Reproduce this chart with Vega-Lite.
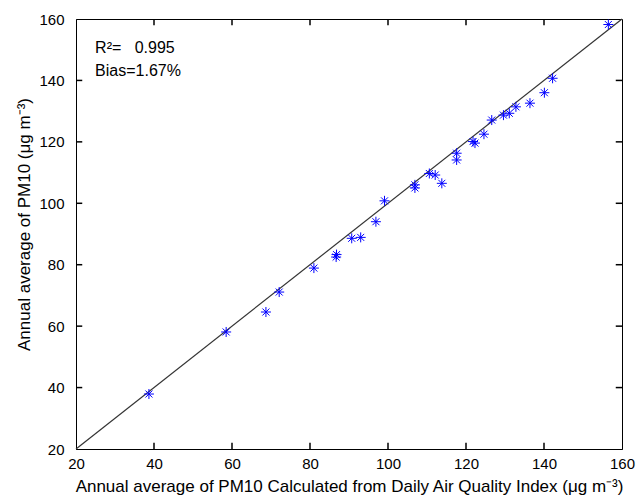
{
  "$schema": "https://vega.github.io/schema/vega-lite/v6.json",
  "width": 546,
  "height": 430,
  "autosize": "none",
  "padding": {"left": 76, "top": 19, "right": 15, "bottom": 53},
  "background": "white",
  "config": {
    "view": {"stroke": "black", "strokeWidth": 1},
    "font": "Liberation Sans",
    "axis": {
      "grid": false,
      "domainColor": "black",
      "tickColor": "black",
      "labelColor": "black",
      "titleColor": "black",
      "labelFontSize": 15,
      "titleFontSize": 17,
      "titleFontWeight": "normal",
      "labelFont": "Liberation Sans",
      "titleFont": "Liberation Sans",
      "labelFlush": false
    }
  },
  "datasets": {
    "line": [{"x": 20, "y": 20}, {"x": 160, "y": 160}],
    "ticks": [{"v": 40}, {"v": 60}, {"v": 80}, {"v": 100}, {"v": 120}, {"v": 140}],
    "points": [
      {"x": 38.7, "y": 37.9},
      {"x": 58.5, "y": 58.1},
      {"x": 68.7, "y": 64.6},
      {"x": 72.1, "y": 71.1},
      {"x": 81.0, "y": 78.9},
      {"x": 86.8, "y": 83.3},
      {"x": 86.7, "y": 82.5},
      {"x": 90.7, "y": 88.6},
      {"x": 93.0, "y": 88.9},
      {"x": 96.9, "y": 94.0},
      {"x": 99.1, "y": 100.8},
      {"x": 106.9, "y": 106.0},
      {"x": 106.9, "y": 105.0},
      {"x": 110.6, "y": 109.7},
      {"x": 112.1, "y": 109.2},
      {"x": 113.8, "y": 106.5},
      {"x": 117.6, "y": 116.3},
      {"x": 117.6, "y": 114.1},
      {"x": 121.8, "y": 120.1},
      {"x": 122.3, "y": 119.6},
      {"x": 124.6, "y": 122.5},
      {"x": 126.6, "y": 127.1},
      {"x": 129.6, "y": 128.7},
      {"x": 131.1, "y": 129.3},
      {"x": 132.8, "y": 131.4},
      {"x": 136.4, "y": 132.6},
      {"x": 140.1, "y": 136.0},
      {"x": 142.2, "y": 140.7},
      {"x": 156.5, "y": 158.2}
    ],
    "labels": [
      {"x": 24.9, "y": 148.9, "text": "R²=\u00a0\u00a0 0.995"},
      {"x": 24.9, "y": 141.4, "text": "Bias=1.67%"}
    ]
  },
  "layer": [
    {
      "data": {"name": "line"},
      "mark": {"type": "line", "color": "#333333", "strokeWidth": 1.2},
      "encoding": {
        "x": {
          "field": "x", "type": "quantitative",
          "scale": {"domain": [20, 160], "nice": false, "zero": false},
          "axis": {
            "orient": "bottom",
            "values": [20, 40, 60, 80, 100, 120, 140, 160],
            "ticks": false,
            "labelPadding": 7,
            "titlePadding": 7,
            "title": "Annual average of PM10 Calculated from Daily Air Quality Index (μg m⁻³)"
          }
        },
        "y": {
          "field": "y", "type": "quantitative",
          "scale": {"domain": [20, 160], "nice": false, "zero": false},
          "axis": {
            "orient": "left",
            "values": [20, 40, 60, 80, 100, 120, 140, 160],
            "ticks": false,
            "labelPadding": 12,
            "titlePadding": 5,
            "titleY": 205,
            "title": "Annual average of PM10 (μg m⁻³)"
          }
        }
      }
    },
    {
      "data": {"name": "ticks"},
      "mark": {"type": "rule", "color": "black", "strokeWidth": 1.5},
      "encoding": {
        "x": {"field": "v", "type": "quantitative"},
        "y": {"datum": 20, "type": "quantitative"},
        "y2": {"datum": 22}
      }
    },
    {
      "data": {"name": "ticks"},
      "mark": {"type": "rule", "color": "black", "strokeWidth": 1.5},
      "encoding": {
        "x": {"field": "v", "type": "quantitative"},
        "y": {"datum": 160, "type": "quantitative"},
        "y2": {"datum": 158}
      }
    },
    {
      "data": {"name": "ticks"},
      "mark": {"type": "rule", "color": "black", "strokeWidth": 1.5},
      "encoding": {
        "y": {"field": "v", "type": "quantitative"},
        "x": {"datum": 20, "type": "quantitative"},
        "x2": {"datum": 21.6}
      }
    },
    {
      "data": {"name": "ticks"},
      "mark": {"type": "rule", "color": "black", "strokeWidth": 1.5},
      "encoding": {
        "y": {"field": "v", "type": "quantitative"},
        "x": {"datum": 160, "type": "quantitative"},
        "x2": {"datum": 158.4}
      }
    },
    {
      "data": {"name": "points"},
      "mark": {
        "type": "point",
        "shape": "M-1,0L1,0M0,-1L0,1M-0.7,-0.7L0.7,0.7M-0.7,0.7L0.7,-0.7",
        "filled": false,
        "stroke": "#0000ff",
        "strokeWidth": 1,
        "size": 100,
        "opacity": 1
      },
      "encoding": {
        "x": {"field": "x", "type": "quantitative"},
        "y": {"field": "y", "type": "quantitative"}
      }
    },
    {
      "data": {"name": "labels"},
      "mark": {"type": "text", "align": "left", "baseline": "alphabetic", "fontSize": 16, "font": "Liberation Sans", "color": "black"},
      "encoding": {
        "x": {"field": "x", "type": "quantitative"},
        "y": {"field": "y", "type": "quantitative"},
        "text": {"field": "text"}
      }
    }
  ]
}
